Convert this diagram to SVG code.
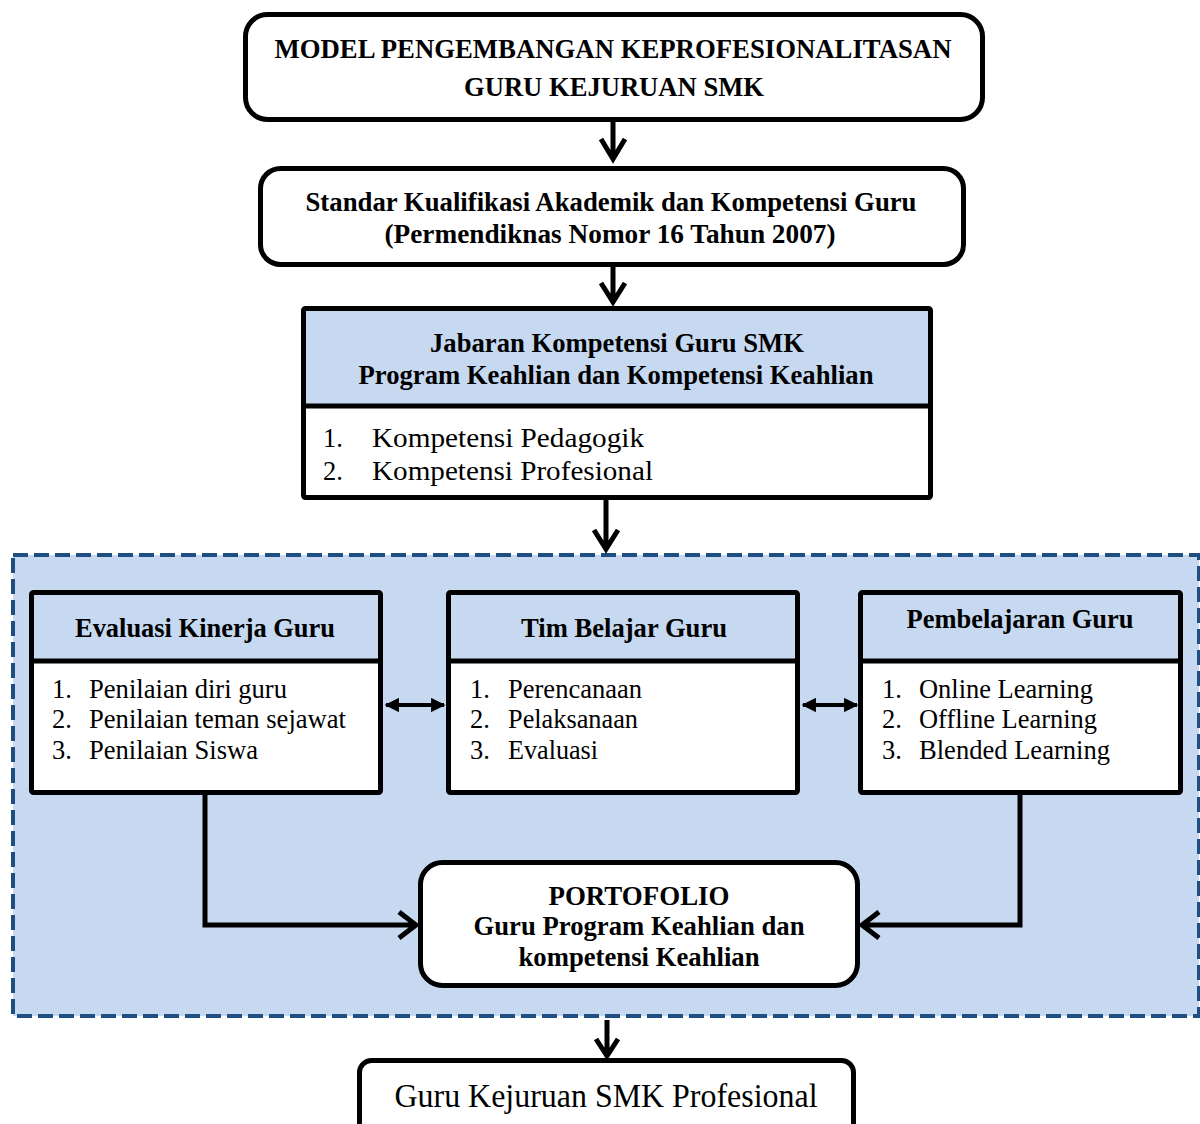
<svg xmlns="http://www.w3.org/2000/svg" width="1200" height="1124" viewBox="0 0 1200 1124">
  <style>
    .box { fill: #ffffff; stroke: #000000; stroke-width: 5; }
    .hdr { fill: #c6d9f0; }
    .div { stroke: #000000; stroke-width: 5; }
    .t { font-family: 'Liberation Serif', 'Times New Roman', Times, serif; fill: #000000; }
    .b { font-weight: bold; font-size: 26.5px; }
    .r { font-size: 26.5px; }
    .arw { fill: none; stroke: #000000; stroke-width: 5; stroke-linejoin: miter; }
    .lnk { fill: none; stroke: #000000; stroke-width: 4; }
  </style>
  <defs>
    <marker id="tri" viewBox="0 0 10 10" refX="9" refY="5" markerWidth="4.2" markerHeight="3.6" orient="auto-start-reverse" markerUnits="strokeWidth">
      <path d="M0,0 L10,5 L0,10 Z" fill="#000000"/>
    </marker>
  </defs>

  <rect width="1200" height="1124" fill="#ffffff"/>

  <!-- shaded dashed group region -->
  <g id="group-region">
    <rect x="13" y="555" width="1186" height="461" fill="#c6d9f0" stroke="#1f4e82" stroke-width="4" stroke-dasharray="15 6"/>
  </g>

  <g id="node-model">
    <rect class="box" x="245.5" y="14.5" width="737" height="105" rx="22"/>
    <text class="t b" x="613" y="58" text-anchor="middle" textLength="677" lengthAdjust="spacingAndGlyphs">MODEL PENGEMBANGAN KEPROFESIONALITASAN</text>
    <text class="t b" x="614" y="96" text-anchor="middle" textLength="300" lengthAdjust="spacingAndGlyphs">GURU KEJURUAN SMK</text>
  </g>

  <g id="node-standar">
    <rect class="box" x="260.5" y="168.5" width="703" height="96" rx="20"/>
    <text class="t b" x="611" y="211" text-anchor="middle" textLength="611" lengthAdjust="spacingAndGlyphs">Standar Kualifikasi Akademik dan Kompetensi Guru</text>
    <text class="t b" x="610" y="243" text-anchor="middle" textLength="451" lengthAdjust="spacingAndGlyphs">(Permendiknas Nomor 16 Tahun 2007)</text>
  </g>

  <g id="node-jabaran">
    <rect class="box" x="303.5" y="308.5" width="627" height="189" rx="2"/>
    <rect class="hdr" x="306" y="311" width="622" height="95"/>
    <line class="div" x1="303.5" y1="406" x2="930.5" y2="406"/>
    <text class="t b" x="617" y="352" text-anchor="middle" font-size="28" textLength="374" lengthAdjust="spacingAndGlyphs">Jabaran Kompetensi Guru SMK</text>
    <text class="t b" x="616" y="384" text-anchor="middle" font-size="28" textLength="515" lengthAdjust="spacingAndGlyphs">Program Keahlian dan Kompetensi Keahlian</text>
    <text class="t r" x="323" y="447" font-size="30">1.</text>
    <text class="t r" x="372" y="447" font-size="30" textLength="272" lengthAdjust="spacingAndGlyphs">Kompetensi Pedagogik</text>
    <text class="t r" x="323" y="480" font-size="30">2.</text>
    <text class="t r" x="372" y="480" font-size="30" textLength="281" lengthAdjust="spacingAndGlyphs">Kompetensi Profesional</text>
  </g>

  <g id="node-evaluasi">
    <rect class="box" x="31.5" y="592.5" width="349" height="200" rx="2"/>
    <rect class="hdr" x="34" y="595" width="344" height="66"/>
    <line class="div" x1="31.5" y1="661" x2="380.5" y2="661"/>
    <text class="t b" x="205" y="637" text-anchor="middle" textLength="260" lengthAdjust="spacingAndGlyphs">Evaluasi Kinerja Guru</text>
    <text class="t r" x="52" y="698">1.</text>
    <text class="t r" x="89" y="698" textLength="198" lengthAdjust="spacingAndGlyphs">Penilaian diri guru</text>
    <text class="t r" x="52" y="728">2.</text>
    <text class="t r" x="89" y="728" textLength="257" lengthAdjust="spacingAndGlyphs">Penilaian teman sejawat</text>
    <text class="t r" x="52" y="759">3.</text>
    <text class="t r" x="89" y="759" textLength="169" lengthAdjust="spacingAndGlyphs">Penilaian Siswa</text>
  </g>

  <g id="node-tim">
    <rect class="box" x="448.5" y="592.5" width="349" height="200" rx="2"/>
    <rect class="hdr" x="451" y="595" width="344" height="66"/>
    <line class="div" x1="448.5" y1="661" x2="797.5" y2="661"/>
    <text class="t b" x="624" y="637" text-anchor="middle" textLength="206" lengthAdjust="spacingAndGlyphs">Tim Belajar Guru</text>
    <text class="t r" x="470" y="698">1.</text>
    <text class="t r" x="508" y="698" textLength="134" lengthAdjust="spacingAndGlyphs">Perencanaan</text>
    <text class="t r" x="470" y="728">2.</text>
    <text class="t r" x="508" y="728" textLength="130" lengthAdjust="spacingAndGlyphs">Pelaksanaan</text>
    <text class="t r" x="470" y="759">3.</text>
    <text class="t r" x="508" y="759" textLength="90" lengthAdjust="spacingAndGlyphs">Evaluasi</text>
  </g>

  <g id="node-pembelajaran">
    <rect class="box" x="860.5" y="592.5" width="320" height="200" rx="2"/>
    <rect class="hdr" x="863" y="595" width="315" height="66"/>
    <line class="div" x1="860.5" y1="661" x2="1180.5" y2="661"/>
    <text class="t b" x="1020" y="628" text-anchor="middle" textLength="227" lengthAdjust="spacingAndGlyphs">Pembelajaran Guru</text>
    <text class="t r" x="882" y="698">1.</text>
    <text class="t r" x="919" y="698" textLength="174" lengthAdjust="spacingAndGlyphs">Online Learning</text>
    <text class="t r" x="882" y="728">2.</text>
    <text class="t r" x="919" y="728" textLength="178" lengthAdjust="spacingAndGlyphs">Offline Learning</text>
    <text class="t r" x="882" y="759">3.</text>
    <text class="t r" x="919" y="759" textLength="191" lengthAdjust="spacingAndGlyphs">Blended Learning</text>
  </g>

  <g id="node-portofolio">
    <rect class="box" x="420.5" y="862.5" width="437" height="123" rx="22"/>
    <text class="t b" x="639" y="905" text-anchor="middle" textLength="181" lengthAdjust="spacingAndGlyphs">PORTOFOLIO</text>
    <text class="t b" x="639" y="935" text-anchor="middle" textLength="331" lengthAdjust="spacingAndGlyphs">Guru Program Keahlian dan</text>
    <text class="t b" x="639" y="966" text-anchor="middle" textLength="241" lengthAdjust="spacingAndGlyphs">kompetensi Keahlian</text>
  </g>

  <g id="node-profesional">
    <rect class="box" x="359.5" y="1060.5" width="494" height="80" rx="12"/>
    <text class="t" x="606" y="1107" text-anchor="middle" font-size="33" textLength="423" lengthAdjust="spacingAndGlyphs">Guru Kejuruan SMK Profesional</text>
  </g>

  <g id="connectors">
    <!-- vertical flow arrows with open heads -->
    <path class="arw" d="M613,122 V159 M601,139 L613,159 L625,139"/>
    <path class="arw" d="M613,267 V302 M601,283 L613,302 L625,283"/>
    <path class="arw" d="M606,500 V549 M594,530 L606,549 L618,530"/>
    <path class="arw" stroke-width="4" d="M607,1020 V1056 M596,1039 L607,1056 L618,1039"/>
    <!-- side branches into the portfolio -->
    <path class="arw" d="M205,795 V925 H416 M399,912 L416,925 L399,938"/>
    <path class="arw" d="M1020,795 V925 H862 M879,912 L862,925 L879,938"/>
    <!-- two-way links between the three activity boxes -->
    <line class="lnk" x1="386" y1="705" x2="444" y2="705" marker-start="url(#tri)" marker-end="url(#tri)"/>
    <line class="lnk" x1="803" y1="705" x2="857" y2="705" marker-start="url(#tri)" marker-end="url(#tri)"/>
  </g>
</svg>
